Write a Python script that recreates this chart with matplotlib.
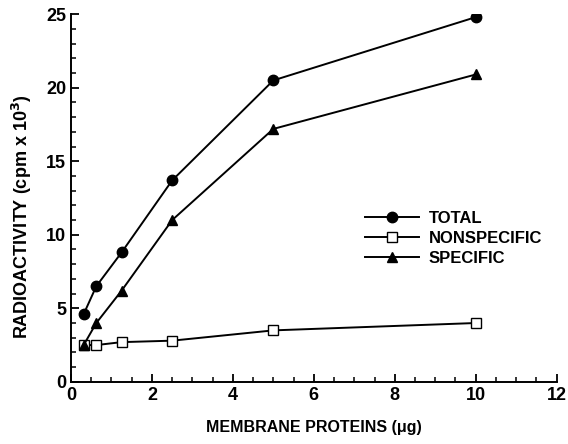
import matplotlib
matplotlib.use("Agg")
import matplotlib.pyplot as plt
from matplotlib.ticker import MultipleLocator

plt.rcParams['font.family'] = ['Liberation Sans', 'DejaVu Sans']
plt.rcParams['font.weight'] = 'bold'

protein = [0.3125, 0.625, 1.25, 2.5, 5, 10]
total = [4.6, 6.5, 8.8, 13.7, 20.5, 24.8]
nonspecific = [2.5, 2.5, 2.7, 2.8, 3.5, 4.0]
specific = [2.5, 4.0, 6.2, 11.0, 17.2, 20.9]

fig = plt.figure(figsize=(5.68, 4.44), dpi=100)
ax = fig.add_axes([0.125, 0.14, 0.855, 0.828])

ax.plot(protein, total, '-o', color='black', ms=7.5, lw=1.4, label='TOTAL')
ax.plot(protein, nonspecific, '-s', color='black', mfc='white', ms=7, lw=1.4, label='NONSPECIFIC')
ax.plot(protein, specific, '-^', color='black', ms=7, lw=1.4, label='SPECIFIC')

ax.set_xlim(0, 12)
ax.set_ylim(0, 25)
ax.xaxis.set_major_locator(MultipleLocator(2))
ax.xaxis.set_minor_locator(MultipleLocator(0.5))
ax.yaxis.set_major_locator(MultipleLocator(5))
ax.yaxis.set_minor_locator(MultipleLocator(1))
ax.tick_params(direction='in', which='major', length=6, width=1.3, labelsize=13)
ax.tick_params(direction='in', which='minor', length=3.5, width=1.1)
for s in ['top', 'right']:
    ax.spines[s].set_visible(False)
for s in ['left', 'bottom']:
    ax.spines[s].set_linewidth(1.4)

ax.set_xlabel('MEMBRANE PROTEINS (\u03bcg)', fontsize=11.5, fontweight='bold', labelpad=12)
ax.set_ylabel('RADIOACTIVITY (cpm x 10$^3$)', fontsize=13, fontweight='bold')
ax.yaxis.set_label_coords(-0.1, 0.45)
ax.yaxis.label.set_va('center')

ax.legend(loc='upper left', bbox_to_anchor=(0.575, 0.505), frameon=False, fontsize=12,
          handlelength=3.2, handletextpad=0.6, labelspacing=0.3)

fig.savefig('out.png', dpi=100)
